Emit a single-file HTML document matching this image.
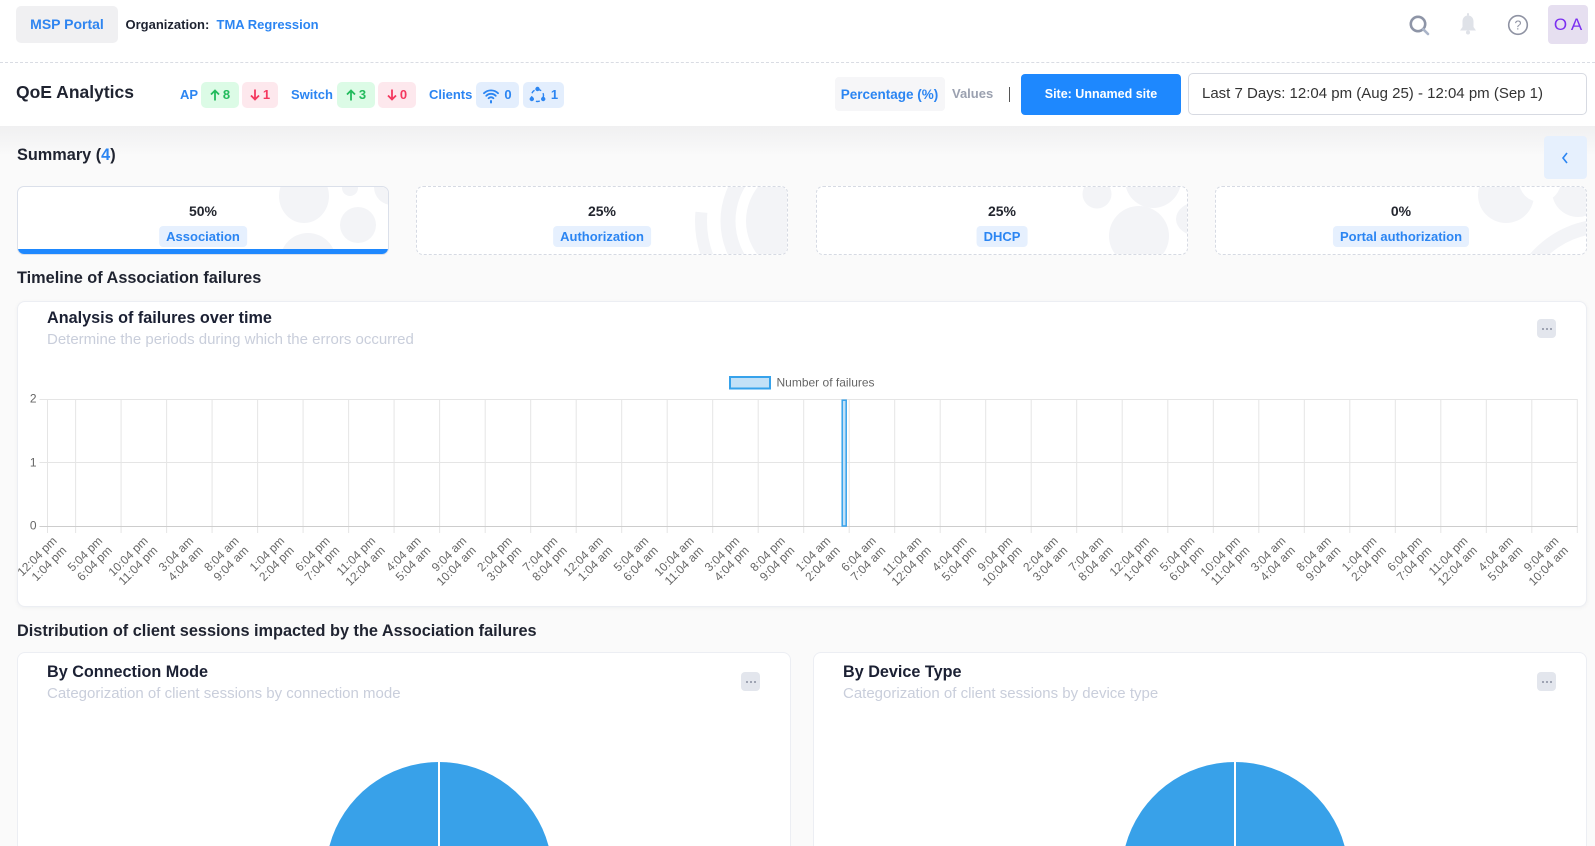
<!DOCTYPE html>
<html><head><meta charset="utf-8"><title>QoE Analytics</title>
<style>
*{margin:0;padding:0;box-sizing:border-box}
html,body{width:1595px;height:846px;overflow:hidden}
body{position:relative;background:#fafafa;font-family:"Liberation Sans",Arial,sans-serif;color:#1f2330}
.a{position:absolute;white-space:nowrap}
.t{height:20px;line-height:20px}
.bd{font-weight:bold}
.blue{color:#2b85f2}
.badge{position:absolute;top:82px;height:26px;border-radius:5px;display:flex;align-items:center;justify-content:center;gap:3px;font-weight:bold;font-size:13px;line-height:26px}
.g{background:#dcfbe6;color:#22bb5c}
.r{background:#fde8ed;color:#f4385f}
.bl{background:#e3eefd;color:#2b85f2}
.card{position:absolute;top:186px;width:372px;height:69px;background:#fff;border-radius:7px;overflow:hidden;border:1px dashed #d6dae3}
.card svg{position:absolute;left:0;top:0}
.pct{position:absolute;left:0;right:0;top:13.5px;text-align:center;font-weight:bold;font-size:14px;color:#23262f;line-height:20px}
.lab{position:absolute;top:39px;left:50%;transform:translateX(-50%);height:21px;line-height:21px;padding:0 7px;background:#e6f0fe;border-radius:4px;font-size:13px;font-weight:bold;color:#2b85f2;white-space:nowrap}
.panel{position:absolute;background:#fff;border:1px solid #eceef3;border-radius:8px;box-shadow:0 1px 4px rgba(20,30,60,0.05)}
.panel.open{border-bottom:none;border-radius:8px 8px 0 0;box-shadow:none}
.h{font-weight:bold;font-size:16.2px;color:#1b2033}
.sec{font-weight:bold;font-size:16.3px;color:#1f2330}
.sub{font-size:15px;color:#c9cedb}
.menu{position:absolute;width:19px;height:19px;background:#e3e6ed;border-radius:4px}
.menu i{position:absolute;top:9px;width:2px;height:2px;border-radius:1px;background:#8a90a0}
</style></head><body>

<!-- header -->
<div class="a" style="left:0;top:0;width:1595px;height:126px;background:#fff"></div>
<div class="a" style="left:0;top:126px;width:1595px;height:30px;background:linear-gradient(#f0f0f1,#fafafa)"></div>
<div class="a" style="left:0;top:62px;width:1595px;height:0;border-top:1px dashed #d9dce3"></div>

<div class="a" style="left:16px;top:6px;width:102px;height:37px;background:#f0f0f2;border-radius:5px;text-align:center;line-height:37px;font-size:14px;font-weight:bold;color:#2f85f0">MSP Portal</div>
<div class="a t bd" style="left:125.5px;top:14.5px;font-size:13px;color:#1d2230">Organization:</div>
<div class="a t bd blue" style="left:216.5px;top:14.5px;font-size:13px">TMA Regression</div>

<!-- header icons -->
<svg class="a" style="left:1407px;top:13px" width="26" height="26" viewBox="0 0 26 26">
  <circle cx="11" cy="11" r="7.2" fill="none" stroke="#8e95a7" stroke-width="2.6"/>
  <line x1="16.3" y1="16.3" x2="21" y2="21" stroke="#aab4c8" stroke-width="2.6" stroke-linecap="round"/>
</svg>
<svg class="a" style="left:1458px;top:12px" width="20" height="24" viewBox="0 0 20 24">
  <rect x="9" y="1" width="2" height="3" rx="1" fill="#dfe2e8"/>
  <path d="M10 3.5C6.3 3.5 4.5 6.5 4.5 9.5V15L2 18.5H18L15.5 15V9.5C15.5 6.5 13.7 3.5 10 3.5Z" fill="#dfe2e8"/>
  <circle cx="10" cy="20.5" r="2" fill="#dfe2e8"/>
</svg>
<svg class="a" style="left:1507px;top:14px" width="22" height="22" viewBox="0 0 22 22">
  <circle cx="11" cy="11" r="9.3" fill="none" stroke="#8f93a3" stroke-width="1.6"/>
  <text x="11" y="15.5" text-anchor="middle" font-family="Liberation Sans, sans-serif" font-size="12.5" fill="#8f93a3">?</text>
</svg>
<div class="a" style="left:1548px;top:5px;width:40px;height:39px;background:#e6dff0;border-radius:4px;text-align:center;line-height:39px;font-size:17px;color:#7b2ff0">O A</div>

<!-- QoE bar -->
<div class="a bd" style="left:16px;top:80.5px;height:23px;line-height:23px;font-size:17.5px;color:#1f2330">QoE Analytics</div>
<div class="a bd blue" style="left:180px;top:82px;line-height:26px;font-size:13px">AP</div>
<div class="badge g" style="left:201px;width:38px"><svg width="10" height="12" viewBox="0 0 10 12"><path d="M5 11.5V1.5M1 5.5L5 1.5L9 5.5" fill="none" stroke="#22bb5c" stroke-width="1.8"/></svg>8</div>
<div class="badge r" style="left:242px;width:36px"><svg width="10" height="12" viewBox="0 0 10 12"><path d="M5 0.5V10.5M1 6.5L5 10.5L9 6.5" fill="none" stroke="#f4385f" stroke-width="1.8"/></svg>1</div>
<div class="a bd blue" style="left:291px;top:82px;line-height:26px;font-size:13px">Switch</div>
<div class="badge g" style="left:337px;width:38px"><svg width="10" height="12" viewBox="0 0 10 12"><path d="M5 11.5V1.5M1 5.5L5 1.5L9 5.5" fill="none" stroke="#22bb5c" stroke-width="1.8"/></svg>3</div>
<div class="badge r" style="left:378px;width:38px"><svg width="10" height="12" viewBox="0 0 10 12"><path d="M5 0.5V10.5M1 6.5L5 10.5L9 6.5" fill="none" stroke="#f4385f" stroke-width="1.8"/></svg>0</div>
<div class="a bd blue" style="left:429px;top:82px;line-height:26px;font-size:13px">Clients</div>
<div class="badge bl" style="left:476px;width:43px;gap:5px"><svg width="16" height="17" viewBox="0 0 16 17"><path d="M1 6.2A10 10 0 0 1 15 6.2M3.3 8.8A6.6 6.6 0 0 1 12.7 8.8M5.6 11.2A3.3 3.3 0 0 1 10.4 11.2" fill="none" stroke="#2b85f2" stroke-width="1.8" stroke-linecap="round"/><rect x="7" y="13" width="2" height="3.5" rx="1" fill="#2b85f2"/></svg>0</div>
<div class="badge bl" style="left:523px;width:41px;gap:5px"><svg width="17" height="18" viewBox="0 0 17 18"><circle cx="8.5" cy="9.5" r="6" fill="none" stroke="#2b85f2" stroke-width="1.4" stroke-dasharray="4 3"/><circle cx="8.5" cy="3" r="2.2" fill="#2b85f2"/><circle cx="2.8" cy="13" r="2.2" fill="#2b85f2"/><circle cx="14.2" cy="13" r="2.2" fill="#2b85f2"/></svg>1</div>

<div class="a" style="left:834.5px;top:77px;width:110px;height:34px;background:#f6f6f8;border-radius:4px;text-align:center;line-height:35px;font-size:13.5px;font-weight:bold;color:#2b85f2">Percentage (%)</div>
<div class="a bd" style="left:952px;top:81px;line-height:26px;font-size:13px;color:#9ba1b0">Values</div>
<div class="a" style="left:1009px;top:87px;width:1px;height:15px;background:#555"></div>
<div class="a" style="left:1021px;top:74px;width:160px;height:41px;background:#1e88fe;border-radius:4px;text-align:center;line-height:41px;font-size:12.5px;font-weight:bold;color:#fff">Site: Unnamed site</div>
<div class="a" style="left:1188px;top:73px;width:399px;height:42px;background:#fff;border:1px solid #d7dae2;border-radius:5px;line-height:40px;padding-left:13px;font-size:15px;color:#333">Last 7 Days: 12:04 pm (Aug 25) - 12:04 pm (Sep 1)</div>

<!-- Summary -->
<div class="a sec t" style="left:17px;top:145px">Summary (<span class="blue">4</span>)</div>
<div class="a" style="left:1544px;top:136px;width:43px;height:43px;background:#e6f0fd;border-radius:4px">
  <svg class="a" style="left:17px;top:16px" width="8" height="12" viewBox="0 0 8 12"><path d="M6 1L2 6L6 11" fill="none" stroke="#2b85f2" stroke-width="1.6"/></svg>
</div>

<div class="card" style="left:17px;border:1px solid #dbe0ea">
  <svg width="372" height="69"><g fill="#f3f4f7">
    <ellipse cx="286" cy="9" rx="25" ry="27"/>
    <circle cx="332" cy="1" r="8"/>
    <circle cx="374" cy="0" r="18"/>
    <circle cx="340" cy="38" r="18"/>
    <circle cx="290" cy="74" r="28"/>
  </g></svg>
  <div class="pct">50%</div>
  <div class="lab">Association</div>
  <div class="a" style="left:0;bottom:0;width:372px;height:5px;background:#1e88fe"></div>
</div>
<div class="card" style="left:416px">
  <svg width="372" height="69"><g fill="#f3f4f7">
    <circle cx="384" cy="34" r="55"/>
    <circle cx="384" cy="34" r="73" fill="none" stroke="#f3f4f7" stroke-width="15"/>
    <path d="M284.4 25.3A100 100 0 0 0 319.7 110.6" fill="none" stroke="#f3f4f7" stroke-width="12"/>
  </g></svg>
  <div class="pct">25%</div>
  <div class="lab">Authorization</div>
</div>
<div class="card" style="left:816px">
  <svg width="372" height="69"><g fill="#f3f4f7">
    <circle cx="280" cy="7" r="14.5"/>
    <circle cx="336" cy="-7" r="28"/>
    <circle cx="322" cy="49" r="30"/>
    <ellipse cx="381" cy="32" rx="22" ry="17"/>
  </g></svg>
  <div class="pct">25%</div>
  <div class="lab">DHCP</div>
</div>
<div class="card" style="left:1215px">
  <svg width="372" height="69"><g fill="#f3f4f7">
    <circle cx="290" cy="8" r="28"/>
    <circle cx="362" cy="4" r="26"/>
    <circle cx="390" cy="132" r="100"/>
  </g>
    <circle cx="324" cy="-6" r="21" fill="#fff"/>
    <circle cx="390" cy="132" r="86" fill="#fff"/>
    <circle cx="392" cy="120" r="48" fill="#f3f4f7"/>
  </svg>
  <div class="pct">0%</div>
  <div class="lab">Portal authorization</div>
</div>

<div class="a sec t" style="left:17px;top:268px">Timeline of Association failures</div>

<!-- Chart panel -->
<div class="panel" style="left:17px;top:301px;width:1570px;height:306px"></div>
<div class="a h t" style="left:47px;top:308px">Analysis of failures over time</div>
<div class="a sub t" style="left:47px;top:330px">Determine the periods during which the errors occurred</div>
<div class="menu" style="left:1537px;top:319px"><i style="left:5px"></i><i style="left:9px"></i><i style="left:13px"></i></div>

<div class="a sec t" style="left:17px;top:621px">Distribution of client sessions impacted by the Association failures</div>

<div class="panel open" style="left:17px;top:652px;width:774px;height:194px"></div>
<div class="a h t" style="left:47px;top:662px">By Connection Mode</div>
<div class="a sub t" style="left:47px;top:683.5px">Categorization of client sessions by connection mode</div>
<div class="menu" style="left:741px;top:672px"><i style="left:5px"></i><i style="left:9px"></i><i style="left:13px"></i></div>

<div class="panel open" style="left:813px;top:652px;width:774px;height:194px"></div>
<div class="a h t" style="left:843px;top:662px">By Device Type</div>
<div class="a sub t" style="left:843px;top:683.5px">Categorization of client sessions by device type</div>
<div class="menu" style="left:1537px;top:672px"><i style="left:5px"></i><i style="left:9px"></i><i style="left:13px"></i></div>

<!-- chart overlay -->
<svg class="a" style="left:0;top:0" width="1595" height="846" viewBox="0 0 1595 846">
  <!-- legend -->
  <rect x="730" y="377" width="40" height="11.5" fill="#c3e1f7" stroke="#36a2eb" stroke-width="2"/>
  <text x="776.5" y="386.3" font-family="Liberation Sans, Arial, sans-serif" font-size="12" fill="#666">Number of failures</text>

  <!-- horizontal grid -->
  <g stroke="#e5e5e5" stroke-width="1">
    <line x1="39.5" y1="399.5" x2="1577.5" y2="399.5"/>
    <line x1="39.5" y1="462.5" x2="1577.5" y2="462.5"/>
  </g>
  <!-- vertical grid -->
  <g stroke="#e5e5e5" stroke-width="1">
    <line x1="47.5" y1="399" x2="47.5" y2="533"/>
    <line x1="75.6" y1="399" x2="75.6" y2="533"/>
    <line x1="121.1" y1="399" x2="121.1" y2="533"/>
    <line x1="166.6" y1="399" x2="166.6" y2="533"/>
    <line x1="212.1" y1="399" x2="212.1" y2="533"/>
    <line x1="257.6" y1="399" x2="257.6" y2="533"/>
    <line x1="303.1" y1="399" x2="303.1" y2="533"/>
    <line x1="348.6" y1="399" x2="348.6" y2="533"/>
    <line x1="394.1" y1="399" x2="394.1" y2="533"/>
    <line x1="439.6" y1="399" x2="439.6" y2="533"/>
    <line x1="485.2" y1="399" x2="485.2" y2="533"/>
    <line x1="530.7" y1="399" x2="530.7" y2="533"/>
    <line x1="576.2" y1="399" x2="576.2" y2="533"/>
    <line x1="621.7" y1="399" x2="621.7" y2="533"/>
    <line x1="667.2" y1="399" x2="667.2" y2="533"/>
    <line x1="712.7" y1="399" x2="712.7" y2="533"/>
    <line x1="758.2" y1="399" x2="758.2" y2="533"/>
    <line x1="803.7" y1="399" x2="803.7" y2="533"/>
    <line x1="849.2" y1="399" x2="849.2" y2="533"/>
    <line x1="894.7" y1="399" x2="894.7" y2="533"/>
    <line x1="940.2" y1="399" x2="940.2" y2="533"/>
    <line x1="985.7" y1="399" x2="985.7" y2="533"/>
    <line x1="1031.2" y1="399" x2="1031.2" y2="533"/>
    <line x1="1076.7" y1="399" x2="1076.7" y2="533"/>
    <line x1="1122.2" y1="399" x2="1122.2" y2="533"/>
    <line x1="1167.8" y1="399" x2="1167.8" y2="533"/>
    <line x1="1213.3" y1="399" x2="1213.3" y2="533"/>
    <line x1="1258.8" y1="399" x2="1258.8" y2="533"/>
    <line x1="1304.3" y1="399" x2="1304.3" y2="533"/>
    <line x1="1349.8" y1="399" x2="1349.8" y2="533"/>
    <line x1="1395.3" y1="399" x2="1395.3" y2="533"/>
    <line x1="1440.8" y1="399" x2="1440.8" y2="533"/>
    <line x1="1486.3" y1="399" x2="1486.3" y2="533"/>
    <line x1="1531.8" y1="399" x2="1531.8" y2="533"/>
    <line x1="1577.3" y1="399" x2="1577.3" y2="533"/>
  </g>
  <line x1="39.5" y1="526.5" x2="1577.5" y2="526.5" stroke="#cdcdcd" stroke-width="1"/>

  <!-- bar -->
  <rect x="842.2" y="400.2" width="4" height="125.8" fill="#c3e1f7" stroke="#36a2eb" stroke-width="1.5"/>

  <!-- y labels -->
  <g font-family="Liberation Sans, Arial, sans-serif" font-size="12" fill="#666" text-anchor="end">
    <text x="36.5" y="402.3">2</text>
    <text x="36.5" y="466.3">1</text>
    <text x="36.5" y="529.5">0</text>
  </g>

  <!-- x labels -->
  <g font-family="Liberation Sans, Arial, sans-serif" font-size="12" fill="#666" text-anchor="end">
    <text transform="translate(57.6,541.5) rotate(-45)"><tspan x="0" y="0">12:04 pm</tspan><tspan x="0" y="13.5">1:04 pm</tspan></text>
    <text transform="translate(103.1,541.5) rotate(-45)"><tspan x="0" y="0">5:04 pm</tspan><tspan x="0" y="13.5">6:04 pm</tspan></text>
    <text transform="translate(148.6,541.5) rotate(-45)"><tspan x="0" y="0">10:04 pm</tspan><tspan x="0" y="13.5">11:04 pm</tspan></text>
    <text transform="translate(194.1,541.5) rotate(-45)"><tspan x="0" y="0">3:04 am</tspan><tspan x="0" y="13.5">4:04 am</tspan></text>
    <text transform="translate(239.6,541.5) rotate(-45)"><tspan x="0" y="0">8:04 am</tspan><tspan x="0" y="13.5">9:04 am</tspan></text>
    <text transform="translate(285.1,541.5) rotate(-45)"><tspan x="0" y="0">1:04 pm</tspan><tspan x="0" y="13.5">2:04 pm</tspan></text>
    <text transform="translate(330.6,541.5) rotate(-45)"><tspan x="0" y="0">6:04 pm</tspan><tspan x="0" y="13.5">7:04 pm</tspan></text>
    <text transform="translate(376.1,541.5) rotate(-45)"><tspan x="0" y="0">11:04 pm</tspan><tspan x="0" y="13.5">12:04 am</tspan></text>
    <text transform="translate(421.6,541.5) rotate(-45)"><tspan x="0" y="0">4:04 am</tspan><tspan x="0" y="13.5">5:04 am</tspan></text>
    <text transform="translate(467.2,541.5) rotate(-45)"><tspan x="0" y="0">9:04 am</tspan><tspan x="0" y="13.5">10:04 am</tspan></text>
    <text transform="translate(512.7,541.5) rotate(-45)"><tspan x="0" y="0">2:04 pm</tspan><tspan x="0" y="13.5">3:04 pm</tspan></text>
    <text transform="translate(558.2,541.5) rotate(-45)"><tspan x="0" y="0">7:04 pm</tspan><tspan x="0" y="13.5">8:04 pm</tspan></text>
    <text transform="translate(603.7,541.5) rotate(-45)"><tspan x="0" y="0">12:04 am</tspan><tspan x="0" y="13.5">1:04 am</tspan></text>
    <text transform="translate(649.2,541.5) rotate(-45)"><tspan x="0" y="0">5:04 am</tspan><tspan x="0" y="13.5">6:04 am</tspan></text>
    <text transform="translate(694.7,541.5) rotate(-45)"><tspan x="0" y="0">10:04 am</tspan><tspan x="0" y="13.5">11:04 am</tspan></text>
    <text transform="translate(740.2,541.5) rotate(-45)"><tspan x="0" y="0">3:04 pm</tspan><tspan x="0" y="13.5">4:04 pm</tspan></text>
    <text transform="translate(785.7,541.5) rotate(-45)"><tspan x="0" y="0">8:04 pm</tspan><tspan x="0" y="13.5">9:04 pm</tspan></text>
    <text transform="translate(831.2,541.5) rotate(-45)"><tspan x="0" y="0">1:04 am</tspan><tspan x="0" y="13.5">2:04 am</tspan></text>
    <text transform="translate(876.7,541.5) rotate(-45)"><tspan x="0" y="0">6:04 am</tspan><tspan x="0" y="13.5">7:04 am</tspan></text>
    <text transform="translate(922.2,541.5) rotate(-45)"><tspan x="0" y="0">11:04 am</tspan><tspan x="0" y="13.5">12:04 pm</tspan></text>
    <text transform="translate(967.7,541.5) rotate(-45)"><tspan x="0" y="0">4:04 pm</tspan><tspan x="0" y="13.5">5:04 pm</tspan></text>
    <text transform="translate(1013.2,541.5) rotate(-45)"><tspan x="0" y="0">9:04 pm</tspan><tspan x="0" y="13.5">10:04 pm</tspan></text>
    <text transform="translate(1058.7,541.5) rotate(-45)"><tspan x="0" y="0">2:04 am</tspan><tspan x="0" y="13.5">3:04 am</tspan></text>
    <text transform="translate(1104.2,541.5) rotate(-45)"><tspan x="0" y="0">7:04 am</tspan><tspan x="0" y="13.5">8:04 am</tspan></text>
    <text transform="translate(1149.8,541.5) rotate(-45)"><tspan x="0" y="0">12:04 pm</tspan><tspan x="0" y="13.5">1:04 pm</tspan></text>
    <text transform="translate(1195.3,541.5) rotate(-45)"><tspan x="0" y="0">5:04 pm</tspan><tspan x="0" y="13.5">6:04 pm</tspan></text>
    <text transform="translate(1240.8,541.5) rotate(-45)"><tspan x="0" y="0">10:04 pm</tspan><tspan x="0" y="13.5">11:04 pm</tspan></text>
    <text transform="translate(1286.3,541.5) rotate(-45)"><tspan x="0" y="0">3:04 am</tspan><tspan x="0" y="13.5">4:04 am</tspan></text>
    <text transform="translate(1331.8,541.5) rotate(-45)"><tspan x="0" y="0">8:04 am</tspan><tspan x="0" y="13.5">9:04 am</tspan></text>
    <text transform="translate(1377.3,541.5) rotate(-45)"><tspan x="0" y="0">1:04 pm</tspan><tspan x="0" y="13.5">2:04 pm</tspan></text>
    <text transform="translate(1422.8,541.5) rotate(-45)"><tspan x="0" y="0">6:04 pm</tspan><tspan x="0" y="13.5">7:04 pm</tspan></text>
    <text transform="translate(1468.3,541.5) rotate(-45)"><tspan x="0" y="0">11:04 pm</tspan><tspan x="0" y="13.5">12:04 am</tspan></text>
    <text transform="translate(1513.8,541.5) rotate(-45)"><tspan x="0" y="0">4:04 am</tspan><tspan x="0" y="13.5">5:04 am</tspan></text>
    <text transform="translate(1559.3,541.5) rotate(-45)"><tspan x="0" y="0">9:04 am</tspan><tspan x="0" y="13.5">10:04 am</tspan></text>
  </g>

  <!-- pies (clipped at frame bottom) -->
  <path d="M329.4 846A113.5 113.5 0 0 1 548.6 846Z" fill="#38a1e9"/>
  <line x1="439" y1="760" x2="439" y2="846" stroke="#fff" stroke-width="2"/>
  <path d="M1125.4 846A113.5 113.5 0 0 1 1344.6 846Z" fill="#38a1e9"/>
  <line x1="1235" y1="760" x2="1235" y2="846" stroke="#fff" stroke-width="2"/>
</svg>

</body></html>
